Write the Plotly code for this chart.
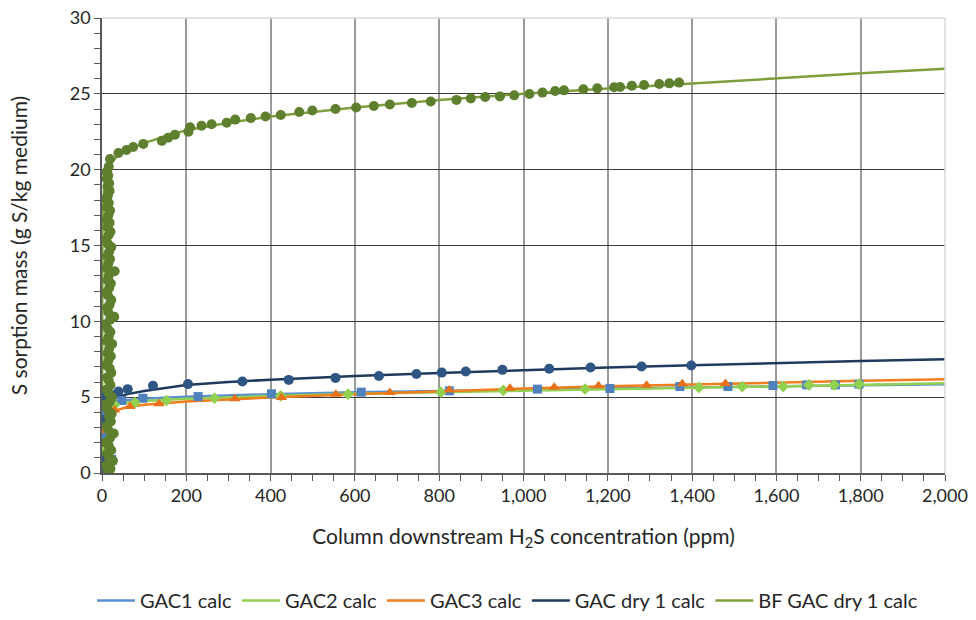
import plotly.graph_objects as go

# ---------------- data ----------------
# calc (model) lines
calc_x = [0, 2, 10, 30, 60, 100, 200, 300, 400, 600, 800, 1000, 1200, 1400, 1600, 1800, 2000]
gac1_calc = [0, 3.9, 4.5, 4.72, 4.82, 4.9, 5.03, 5.12, 5.2, 5.32, 5.42, 5.5, 5.57, 5.64, 5.71, 5.78, 5.85]
gac2_calc = [0, 3.5, 4.3, 4.55, 4.65, 4.75, 4.9, 5.0, 5.08, 5.22, 5.33, 5.44, 5.53, 5.62, 5.71, 5.81, 5.92]
gac3_calc = [0, 2.8, 3.7, 4.1, 4.35, 4.5, 4.72, 4.86, 4.98, 5.2, 5.4, 5.57, 5.72, 5.85, 5.97, 6.08, 6.18]
dry1_calc = [0, 3.8, 4.5, 4.95, 5.2, 5.4, 5.8, 6.0, 6.15, 6.4, 6.6, 6.8, 6.95, 7.1, 7.25, 7.38, 7.5]
bf_calc_x = [0, 1, 5, 10, 20, 40, 70, 100, 150, 200, 300, 400, 500, 600, 800, 1000, 1200, 1400, 1600, 1800, 2000]
bf_calc = [0, 17.0, 18.8, 19.5, 20.4, 21.0, 21.4, 21.75, 22.2, 22.6, 23.1, 23.5, 23.8, 24.1, 24.6, 25.0, 25.35, 25.7, 26.0, 26.35, 26.65]

# measured points
gac1_x = [2, 5, 23, 3, 4, 3, 5, 4, 8, 47, 97, 228, 402, 615, 824, 1033, 1205, 1371, 1485, 1592, 1672, 1740, 1796]
gac1_y = [0.2, 0.9, 0.9, 1.5, 2.5, 3.3, 3.9, 4.4, 4.6, 4.78, 4.93, 5.04, 5.22, 5.33, 5.42, 5.53, 5.57, 5.70, 5.70, 5.77, 5.81, 5.81, 5.86]
gac2_x = [18, 2, 4, 30, 78, 153, 267, 424, 584, 804, 952, 1146, 1416, 1519, 1616, 1677, 1737, 1796]
gac2_y = [0.1, 1.5, 3.0, 4.5, 4.64, 4.78, 4.93, 5.09, 5.20, 5.33, 5.45, 5.54, 5.64, 5.70, 5.70, 5.81, 5.81, 5.86]
gac3_x = [8, 2, 3, 1, 3, 30, 66, 135, 315, 426, 555, 683, 824, 968, 1073, 1178, 1292, 1377, 1479]
gac3_y = [0.0, 0.9, 1.9, 2.8, 3.5, 4.16, 4.38, 4.56, 4.89, 4.97, 5.20, 5.30, 5.48, 5.59, 5.66, 5.75, 5.79, 5.88, 5.90]
dry1_x = [1, 3, 5, 2, 20, 39, 61, 121, 204, 333, 443, 554, 657, 746, 806, 863, 950, 1061, 1159, 1280, 1398]
dry1_y = [0.2, 1.0, 3.5, 5.0, 5.2, 5.37, 5.53, 5.75, 5.86, 6.03, 6.14, 6.27, 6.40, 6.53, 6.62, 6.69, 6.80, 6.87, 6.96, 7.02, 7.09]
bf_x = [14, 20, 10, 26, 17, 12, 22, 16, 9, 19, 28, 14, 11, 21, 17, 23, 13, 8, 18, 24, 15, 11, 20, 16,
        12, 22, 18, 10, 15, 21, 13, 17, 24, 11, 16, 20, 14, 9, 19, 29, 15, 12, 18, 22, 14, 10, 17, 21,
        13, 16, 30, 11, 15, 19, 12, 17, 22, 14, 10, 16, 20, 13, 18, 11, 15, 19, 12, 16, 10, 14, 18, 13,
        17, 11, 15, 12, 16,
        11, 19, 39, 58, 74, 98, 142, 157, 173, 205, 209, 236, 260, 296, 316, 353, 388, 424, 468, 499,
        554, 603, 645, 683, 735, 780, 841, 875, 909, 944, 978, 1014, 1045, 1075, 1096, 1142, 1175,
        1215, 1229, 1257, 1286, 1322, 1346, 1369]
bf_y = [0.1, 0.3, 0.5, 0.8, 1.0, 1.3, 1.5, 1.8, 2.0, 2.3, 2.6, 2.9, 3.1, 3.4, 3.7, 3.9, 4.2, 4.5,
        4.7, 5.0, 5.3, 5.5, 5.8, 6.1, 6.3, 6.6, 6.9, 7.1, 7.4, 7.7, 7.9, 8.2, 8.5, 8.7, 9.0, 9.3,
        9.5, 9.8, 10.1, 10.3, 10.6, 10.9, 11.1, 11.4, 11.7, 11.9, 12.2, 12.5, 12.7, 13.0, 13.3, 13.5,
        13.8, 14.1, 14.3, 14.6, 14.9, 15.1, 15.4, 15.7, 15.9, 16.2, 16.5, 16.7, 17.0, 17.3, 17.5,
        17.8, 18.1, 18.3, 18.6, 18.9, 19.1, 19.4, 19.6, 19.9, 20.2,
        19.8, 20.7, 21.1, 21.3, 21.5, 21.7, 21.9, 22.1, 22.3, 22.5, 22.8, 22.9, 23.0, 23.1, 23.3,
        23.4, 23.5, 23.6, 23.8, 23.9, 24.0, 24.1, 24.2, 24.3, 24.4, 24.5, 24.6, 24.7, 24.79, 24.83,
        24.9, 24.99, 25.08, 25.19, 25.23, 25.3, 25.36, 25.43, 25.45, 25.54, 25.58, 25.65, 25.69, 25.74]

x_tickvals = [0, 200, 400, 600, 800, 1000, 1200, 1400, 1600, 1800, 2000]
x_ticktext = ["0", "200", "400", "600", "800", "1,000", "1,200", "1,400", "1,600", "1,800", "2,000"]
y_tickvals = [0, 5, 10, 15, 20, 25, 30]

# ---------------- styling ----------------
FONT = "Lato, Open Sans, sans-serif"
c_gac1_line, c_gac1_mk = "#5B8FD0", "#4F81BD"
c_gac2_line, c_gac2_mk = "#92D050", "#92D050"
c_gac3_line, c_gac3_mk = "#F07D1E", "#E8711A"
c_dry_line, c_dry_mk = "#1F3A5F", "#2E5583"
c_bf_line, c_bf_mk = "#7E9F3E", "#5E7F2E"

fig = go.Figure()

lines = [
    ("GAC1 calc", calc_x, gac1_calc, c_gac1_line),
    ("GAC2 calc", calc_x, gac2_calc, c_gac2_line),
    ("GAC3 calc", calc_x, gac3_calc, c_gac3_line),
    ("GAC dry 1 calc", calc_x, dry1_calc, c_dry_line),
    ("BF GAC dry 1 calc", bf_calc_x, bf_calc, c_bf_line),
]
points = [
    (gac1_x, gac1_y, c_gac1_mk, "square", 9),
    (gac2_x, gac2_y, c_gac2_mk, "diamond", 9),
    (gac3_x, gac3_y, c_gac3_mk, "triangle-up", 10),
    (dry1_x, dry1_y, c_dry_mk, "circle", 10),
    (bf_x, bf_y, c_bf_mk, "circle", 10),
]

for name, xs, ys, col in lines:
    fig.add_trace(go.Scatter(x=xs, y=ys, mode="lines", name=name,
                             line=dict(color=col, width=2.5)))
for px, py, mc, sym, sz in points:
    fig.add_trace(go.Scatter(x=px, y=py, mode="markers", showlegend=False,
                             marker=dict(color=mc, symbol=sym, size=sz, line=dict(width=0)),
                             hoverinfo="skip"))

fig.update_layout(
    width=976, height=620,
    margin=dict(l=102, r=31, t=18, b=147, autoexpand=False),
    paper_bgcolor="white", plot_bgcolor="white",
    font=dict(family=FONT, size=18, color="#262626"),
    showlegend=True,
    legend=dict(orientation="h", x=0.52, xref="container", xanchor="center",
                y=0.0, yref="container", yanchor="bottom",
                font=dict(family=FONT, size=20, color="#262626"), itemwidth=38,
                traceorder="normal"),
    shapes=[
        dict(type="line", xref="paper", yref="paper", x0=0, x1=1, y0=1, y1=1,
             line=dict(color="#d9d9d9", width=1.5)),
        dict(type="line", xref="paper", yref="paper", x0=1, x1=1, y0=0, y1=1,
             line=dict(color="#d9d9d9", width=1.5)),
    ],
)

fig.update_xaxes(
    range=[0, 2000], tickvals=x_tickvals, ticktext=x_ticktext, automargin=False,
    showgrid=True, gridcolor="#9a9a9a", gridwidth=1.5,
    showline=True, linecolor="#595959", linewidth=1.5,
    ticks="outside", ticklen=6, tickcolor="#595959",
    minor=dict(dtick=50, ticks="outside", ticklen=6, tickcolor="#595959", showgrid=False),
    zeroline=False,
    tickfont=dict(size=18),
    title=dict(text="Column downstream H<sub>2</sub>S concentration (ppm)", font=dict(size=21), standoff=24),
)
fig.update_yaxes(
    range=[0, 30], tickvals=y_tickvals, automargin=False,
    showgrid=True, gridcolor="#3a3a3a", gridwidth=1,
    showline=True, linecolor="#595959", linewidth=1.5,
    ticks="outside", ticklen=6, tickcolor="#595959",
    minor=dict(dtick=1, ticks="outside", ticklen=6, tickcolor="#595959", showgrid=False),
    zeroline=False,
    tickfont=dict(size=18),
    title=dict(text="S sorption mass (g S/kg medium)", font=dict(size=21), standoff=36),
)

fig.write_html("out.html")
